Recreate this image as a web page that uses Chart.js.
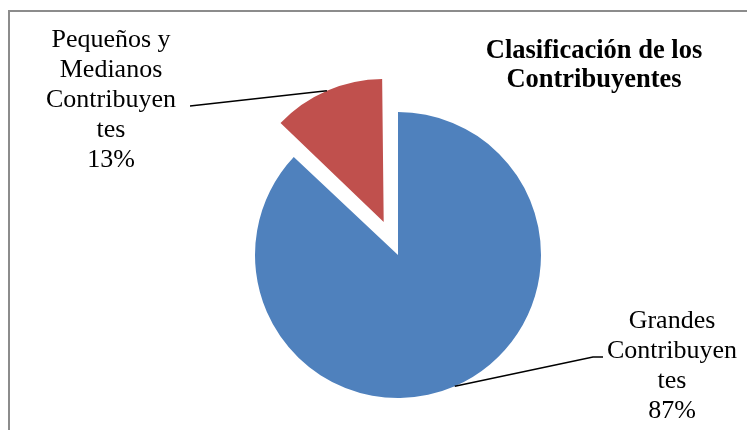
<!DOCTYPE html>
<html>
<head>
<meta charset="utf-8">
<script src="https://cdn.jsdelivr.net/npm/chart.js@4.4.0/dist/chart.umd.min.js"></script>
<style>
  html, body { margin: 0; padding: 0; background: #fff; }
  #wrap { width: 747px; height: 430px; position: relative; }
</style>
</head>
<body>
<div id="wrap"><canvas id="pie" width="747" height="430"></canvas></div>
<script>
const categories = ['Grandes Contribuyentes', 'Pequeños y Medianos Contribuyentes'];
const shares = [87, 13];
const sliceColors = ['#4f81bd', '#c0504d'];
const titleLines = ['Clasificación de los', 'Contribuyentes'];
// label text as wrapped in the original
const labelLines = [
    ['Grandes', 'Contribuyen', 'tes', '87%'],
    ['Pequeños y', 'Medianos', 'Contribuyen', 'tes', '13%']
];

// where the label blocks sit (centre x, first baseline) and the leader end
const labelBox = [
    { x: 672, y: 328, lineX: 593, lineY: 357, tail: 10 },
    { x: 111, y: 47, lineX: 190, lineY: 106, tail: 0 }
];

const serif = '"Liberation Serif", "Times New Roman", serif';

// arc element in v4 moves an exploded slice by offset/4 and also
// grows its radius a bit; work out both so it can be undone
function explode(arc) {
    const shift = (arc.options.offset || 0) / 4;
    const circ = arc.endAngle - arc.startAngle;
    const grow = shift * (1 - Math.sin(Math.min(Math.PI, circ)));
    return { shift, grow };
}

const decor = {
    id: 'decor',
    afterUpdate(chart) {
        // keep exploded slice the same size as the rest
        chart.getDatasetMeta(0).data.forEach(arc => {
            arc.outerRadius -= explode(arc).grow;
        });
    },
    beforeDraw(chart) {
        const ctx = chart.ctx;
        ctx.save();
        ctx.fillStyle = '#fff';
        ctx.fillRect(0, 0, chart.width, chart.height);
        // frame (only top and left show in the crop)
        ctx.strokeStyle = '#8c8c8c';
        ctx.lineWidth = 2;
        ctx.beginPath();
        ctx.moveTo(9, chart.height);
        ctx.lineTo(9, 11);
        ctx.lineTo(chart.width, 11);
        ctx.stroke();
        ctx.restore();
    },
    afterDraw(chart) {
        const ctx = chart.ctx;
        const arcs = chart.getDatasetMeta(0).data;
        ctx.save();
        ctx.fillStyle = '#000';
        ctx.textAlign = 'center';
        ctx.textBaseline = 'alphabetic';

        // title
        ctx.font = 'bold 26.5px ' + serif;
        titleLines.forEach((t, i) => ctx.fillText(t, 594, 58 + i * 29));

        // labels + leader lines
        ctx.font = '26px ' + serif;
        arcs.forEach((arc, i) => {
            const mid = (arc.startAngle + arc.endAngle) / 2;
            const ex = explode(arc);
            const r = arc.outerRadius + ex.grow;
            const ax = arc.x + Math.cos(mid) * (ex.shift + r);
            const ay = arc.y + Math.sin(mid) * (ex.shift + r);
            const b = labelBox[i];
            ctx.strokeStyle = '#000';
            ctx.lineWidth = 1.5;
            ctx.beginPath();
            ctx.moveTo(ax, ay);
            ctx.lineTo(b.lineX, b.lineY);
            if (b.tail) ctx.lineTo(b.lineX + b.tail, b.lineY);
            ctx.stroke();
            labelLines[i].forEach((t, j) => ctx.fillText(t, b.x, b.y + j * 30));
        });
        ctx.restore();
    }
};

new Chart(document.getElementById('pie').getContext('2d'), {
    type: 'pie',
    data: {
        labels: categories,
        datasets: [{
            data: shares,
            backgroundColor: sliceColors,
            borderWidth: 0,
            offset: [0, 144],
            radius: 143
        }]
    },
    options: {
        responsive: false,
        animation: false,
        layout: { padding: { left: 100, right: 51, top: 110, bottom: 30 } },
        plugins: {
            legend: { display: false },
            title: { display: false },
            tooltip: { enabled: false }
        }
    },
    plugins: [decor]
});
</script>
</body>
</html>
